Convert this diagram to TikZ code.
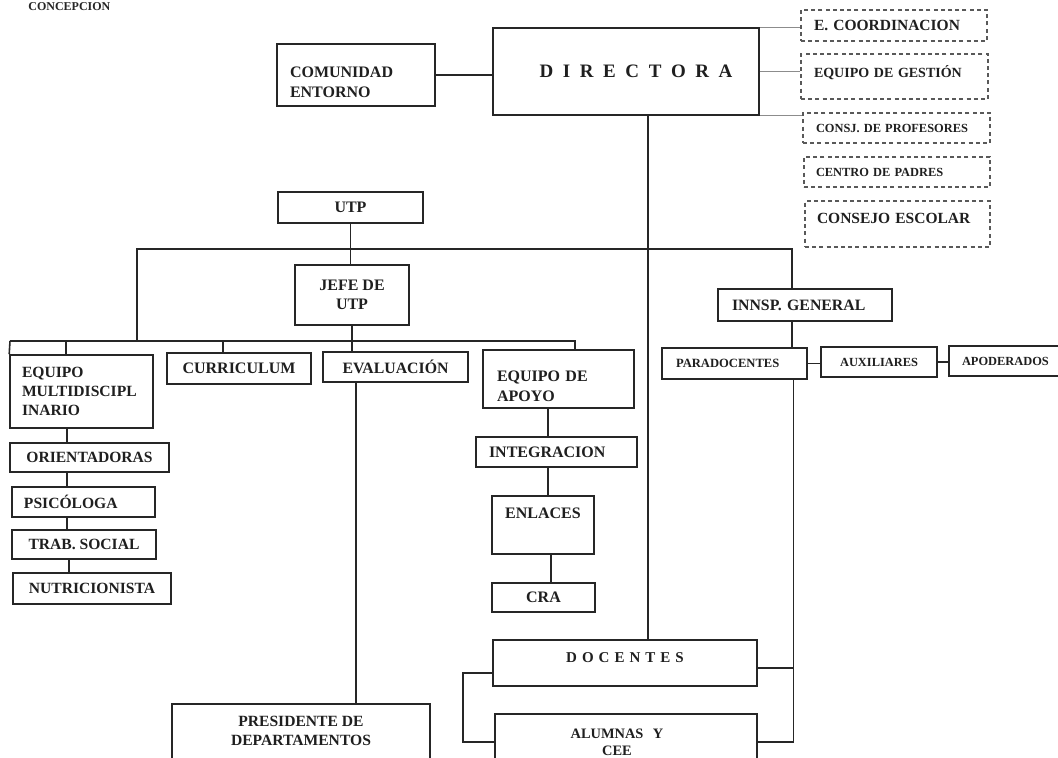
\documentclass[tikz,border=0pt]{standalone}
\usepackage{fontspec}
\setmainfont{Liberation Serif}
\newcommand{\gapA}{\hspace{4.8pt}}
\newcommand{\gapB}{\hspace{2.5pt}}
\newcommand{\fs}[2]{\fontsize{#1}{#2}\selectfont}
\begin{document}
\begin{tikzpicture}[x=0.5pt,y=-0.5pt,
  box/.style={draw=black!85, line width=0.8pt, inner sep=0pt, text=black!88,
    font=\bfseries\fs{7.8pt}{9.5pt}},
  lbox/.style={box, align=left},
  dbox/.style={box, draw=black!65, line width=0.6pt, dash pattern=on 2pt off 1.6pt, align=left},
  ln/.style={draw=black!85, line width=0.8pt},
  thn/.style={draw=black!45, line width=0.45pt}]
\useasboundingbox[fill=white] (0,0) rectangle (1058,757);

\node[anchor=west, inner sep=0pt, text=black!85, font=\bfseries\fs{6pt}{7pt}] (conc) at (28,7) {CONCEPCION};

% top
\node[lbox, minimum width=79pt, minimum height=31pt, inner xsep=6.5pt, text width=66pt,
  text depth=3pt, font=\bfseries\fs{8pt}{10pt}] (com) at (356,75) {COMUNIDAD\\ENTORNO};
\node[box, minimum width=133pt, minimum height=43.5pt, font=\bfseries\fs{9.5pt}{11pt}] (dir) at (626,71.5)
  {\hspace*{10pt}D\gapA I\gapA R\gapA E\gapA C\gapA T\gapA O\gapA R\gapA A};

\node[dbox, minimum width=93pt, minimum height=15.5pt, inner xsep=6.5pt, text width=80pt,
  font=\bfseries\fs{7.75pt}{9pt}] (ec) at (894,25.5) {E. COORDINACION};
\node[dbox, minimum width=93.5pt, minimum height=22.5pt, inner xsep=6.5pt, text width=80.5pt,
  text depth=5.5pt, font=\bfseries\fs{7pt}{8pt}] (eg) at (894.5,76.5) {EQUIPO DE GESTIÓN};
\node[dbox, minimum width=93.5pt, minimum height=15pt, inner xsep=6.5pt, text width=80.5pt,
  font=\bfseries\fs{6.2pt}{7pt}] (cp) at (896.5,128) {CONSJ. DE PROFESORES};
\node[dbox, minimum width=93pt, minimum height=15pt, inner xsep=6pt, text width=81pt,
  font=\bfseries\fs{6.2pt}{7pt}] (cpa) at (897,172) {CENTRO DE PADRES};
\node[dbox, minimum width=92.5pt, minimum height=23pt, inner xsep=6pt, text width=80.5pt,
  text depth=6pt, font=\bfseries\fs{7.75pt}{9pt}] (ce) at (897.5,224) {CONSEJO ESCOLAR};

% UTP branch
\node[box, minimum width=72.5pt, minimum height=15.5pt, font=\bfseries\fs{8pt}{9pt}] (utp) at (350.5,207.5) {UTP};
\node[box, minimum width=57pt, minimum height=30pt, align=center, font=\bfseries\fs{8pt}{9.5pt}] (jefe) at (352,295) {JEFE DE\\UTP};

\node[lbox, minimum width=71.5pt, minimum height=36.5pt, inner xsep=6pt, text width=59.5pt] (multi) at (81.5,391.5)
  {EQUIPO\\MULTIDISCIPL\\INARIO};
\node[box, minimum width=72pt, minimum height=15.5pt, font=\bfseries\fs{8pt}{9pt}] (curr) at (239,368.5) {CURRICULUM};
\node[box, minimum width=72.5pt, minimum height=15pt, font=\bfseries\fs{7.9pt}{9pt}] (eval) at (395.5,367) {EVALUACIÓN};
\node[lbox, minimum width=75.5pt, minimum height=29pt, inner xsep=7pt, text width=61.5pt,
  text depth=3pt, font=\bfseries\fs{8pt}{10pt}] (apoyo) at (558.5,379) {EQUIPO DE\\APOYO};
\node[lbox, minimum width=80.5pt, minimum height=15pt, inner xsep=6.5pt, text width=67.5pt,
  font=\bfseries\fs{8pt}{9pt}] (integ) at (556.5,452) {INTEGRACION};
\node[box, minimum width=51pt, minimum height=29pt, text depth=12pt, font=\bfseries\fs{8pt}{9pt}] (enl) at (543,525) {ENLACES};
\node[box, minimum width=51.5pt, minimum height=14.5pt, font=\bfseries\fs{8pt}{9pt}] (cra) at (543.5,597.5) {CRA};

\node[box, minimum width=79.5pt, minimum height=14.5pt] (ori) at (89.5,457.5) {ORIENTADORAS};
\node[lbox, minimum width=71.5pt, minimum height=15pt, inner xsep=6pt, text width=59.5pt] (psi) at (83.5,502) {PSICÓLOGA};
\node[box, minimum width=72pt, minimum height=14.5pt] (trab) at (84,544.5) {TRAB. SOCIAL};
\node[box, minimum width=79pt, minimum height=15.5pt] (nut) at (92,588.5) {NUTRICIONISTA};

\node[box, minimum width=129pt, minimum height=33pt, align=center, text depth=6.5pt] (pres) at (301,737)
  {PRESIDENTE DE\\DEPARTAMENTOS};

% inspectoria
\node[lbox, minimum width=87pt, minimum height=16pt, inner xsep=7pt, text width=73pt,
  font=\bfseries\fs{7.9pt}{9pt}] (insp) at (805,305) {INNSP. GENERAL};
\node[lbox, minimum width=72.5pt, minimum height=15.5pt, inner xsep=7pt, text width=58.5pt,
  font=\bfseries\fs{6.3pt}{7pt}] (para) at (734.5,363.5) {PARADOCENTES};
\node[box, minimum width=58pt, minimum height=15pt, font=\bfseries\fs{6.2pt}{7pt}] (aux) at (879,362) {AUXILIARES};
\node[lbox, minimum width=56.5pt, minimum height=15pt, inner xsep=6.5pt, text width=43.5pt,
  font=\bfseries\fs{6.2pt}{7pt}] (apod) at (1005.5,361) {APODERADOS};

% docentes / alumnas
\node[box, minimum width=132pt, minimum height=23pt, text depth=5pt, font=\bfseries\fs{7.5pt}{9pt}] (doc) at (625,663)
  {D\gapB O\gapB C\gapB E\gapB N\gapB T\gapB E\gapB S};
\node[box, minimum width=131pt, minimum height=28pt, align=center, font=\bfseries\fs{7.2pt}{8.5pt}] (alum) at (626,742)
  {ALUMNAS\hspace{3pt} Y\hspace*{9pt}\\CEE\hspace*{9pt}};

% coordinates
\coordinate (b1L) at (137,249);
\coordinate (b2L) at (10,341);
\coordinate (b2R) at (575,341);
\coordinate (b1R) at ([xshift=-6.5pt]insp.north |- b1L);
\coordinate (tr) at ([xshift=11pt]dir.south);
\coordinate (ac) at ([xshift=-5.25pt]apoyo.south);
\coordinate (lc) at ([xshift=29pt]multi.south west);
\coordinate (rb) at ([xshift=29.5pt]para.south);
\coordinate (lb) at ([xshift=-14.5pt]doc.west);

% connectors top
\draw[ln] (com.east) -- (com.east -| dir.west);
\draw[thn] (dir.north east) -- (dir.north east -| ec.west);
\draw[thn] (dir.east) -- (dir.east -| eg.west);
\draw[thn] (dir.south east) -- (dir.south east -| cp.west);
\draw[ln] (tr) -- (tr |- doc.north);

% buses
\draw[ln] (b1L |- b2L) -- (b1L) -- (b1R) -- (b1R |- insp.north);
\draw[ln] (b2L) -- (b2R) -- (b2R |- apoyo.north);
\draw[ln] (b2L) -- (multi.north west);
\draw[ln] ([xshift=28.5pt]multi.north west) -- ([xshift=28.5pt]multi.north west |- b2L);
\draw[ln] ([xshift=-8pt]curr.north) -- ([xshift=-8pt]curr.north |- b2L);
\draw[ln] (utp.south) -- (utp.south |- jefe.north);
\draw[ln] (jefe.south) -- (jefe.south |- eval.north);
\draw[ln] ([xshift=2pt]jefe.south |- eval.south) -- ([xshift=2pt]jefe.south |- pres.north);

% apoyo chain
\draw[ln] (ac) -- (ac |- integ.north);
\draw[ln] (ac |- integ.south) -- (ac |- enl.north);
\draw[ln] ([xshift=1.5pt]ac |- enl.south) -- ([xshift=1.5pt]ac |- cra.north);

% left column
\draw[ln] (lc) -- (lc |- ori.north);
\draw[ln] (lc |- ori.south) -- (lc |- psi.north);
\draw[ln] (lc |- psi.south) -- (lc |- trab.north);
\draw[ln] ([xshift=1pt]lc |- trab.south) -- ([xshift=1pt]lc |- nut.north);

% inspectoria
\draw[ln] (b1R |- insp.south) -- (b1R |- para.north);
\draw[ln] (para.east) -- (para.east -| aux.west);
\draw[ln] (aux.east) -- (aux.east -| apod.west);
\draw[ln] (rb) -- (rb |- alum.east) -- (alum.east);
\draw[ln] ([yshift=-2.5pt]doc.east) -- ([yshift=-2.5pt]doc.east -| rb);
\draw[ln] ([yshift=-5pt]doc.west) -- ([yshift=-5pt]doc.west -| lb) -- (lb |- alum.west) -- (alum.west);
\end{tikzpicture}
\end{document}
